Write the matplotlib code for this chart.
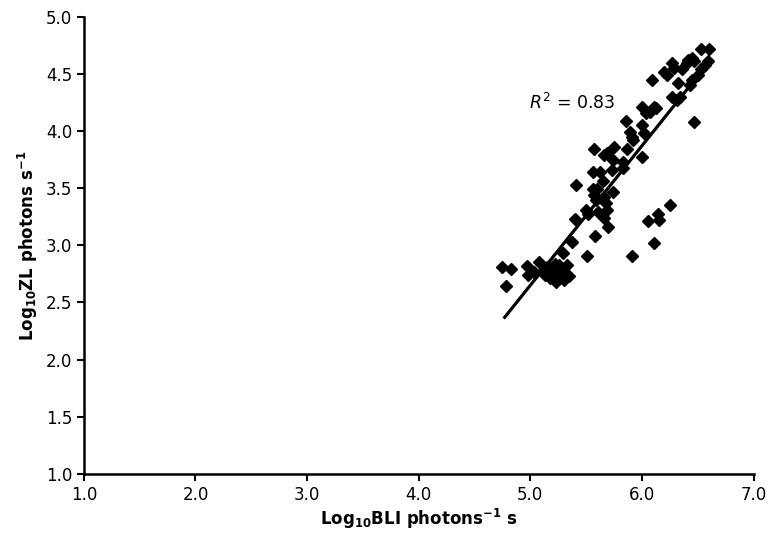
import numpy as np
import matplotlib
matplotlib.use("Agg")
import matplotlib.pyplot as plt

plt.rcParams["font.family"] = "DejaVu Sans"
plt.rcParams["mathtext.fontset"] = "dejavusans"
plt.rcParams["mathtext.default"] = "regular"

# log10 BLI vs log10 ZL
bli = [4.75, 4.83, 4.78, 4.97, 4.98,
       5.08, 5.15, 5.17, 5.20, 5.23, 5.26, 5.29, 5.33, 5.35, 5.23,
       5.12, 5.18, 5.27, 5.30, 5.22, 5.13, 5.03, 5.25,
       5.29, 5.37, 5.51, 5.58,
       5.40, 5.50, 5.52, 5.61, 5.66, 5.70,
       5.41, 5.56, 5.57, 5.59, 5.66, 5.68, 5.69,
       5.60, 5.74, 5.65,
       5.56, 5.62, 5.73, 5.83,
       5.74, 5.83, 6.00,
       5.57, 5.69, 5.66, 5.75, 5.87,
       5.91, 6.05, 6.14, 6.15, 6.25, 6.11,
       5.86, 6.00, 5.89, 5.91, 6.02, 5.92,
       6.07, 6.13, 6.00, 6.11, 6.04,
       6.27, 6.31, 6.34, 6.32, 6.43, 6.45,
       6.09, 6.20, 6.22, 6.27, 6.29, 6.36,
       6.41, 6.45, 6.40, 6.47, 6.50, 6.53, 6.56, 6.59,
       6.53, 6.60, 6.47]
zl = [2.81, 2.79, 2.64, 2.82, 2.74,
      2.85, 2.81, 2.76, 2.80, 2.72, 2.83, 2.77, 2.83, 2.73, 2.68,
      2.78, 2.71, 2.79, 2.70, 2.84, 2.74, 2.77, 2.75,
      2.93, 3.03, 2.91, 3.08,
      3.23, 3.31, 3.27, 3.29, 3.24, 3.16,
      3.53, 3.49, 3.44, 3.40, 3.42, 3.37, 3.31,
      3.49, 3.47, 3.56,
      3.64, 3.64, 3.66, 3.68,
      3.75, 3.73, 3.77,
      3.84, 3.81, 3.79, 3.86, 3.84,
      2.91, 3.21, 3.27, 3.22, 3.35, 3.02,
      4.09, 4.05, 3.99, 3.95, 3.98, 3.92,
      4.17, 4.20, 4.21, 4.21, 4.16,
      4.30, 4.27, 4.30, 4.42, 4.40, 4.45,
      4.45, 4.52, 4.49, 4.60, 4.55, 4.54,
      4.62, 4.64, 4.60, 4.61, 4.49, 4.54, 4.58, 4.61,
      4.72, 4.72, 4.08]

# regression line ends
fit_x = [4.77, 6.58]
fit_y = [2.37, 4.58]

fig = plt.figure(figsize=(7.69, 5.44), dpi=100)
ax = fig.add_axes([0.109, 0.129, 0.871, 0.840])

ax.plot(bli, zl, "D", color="black", markersize=6, linestyle="none")
ax.plot(fit_x, fit_y, color="black", linewidth=2.3)

ax.text(4.99, 4.25, r"$\it{R}^{2}$ = 0.83", fontsize=12.5, va="center")

ax.set_xlim(1.0, 7.0)
ax.set_ylim(1.0, 5.0)
ax.set_xticks(np.arange(1.0, 7.01, 1.0))
ax.set_yticks(np.arange(1.0, 5.01, 0.5))
ax.xaxis.set_major_formatter(matplotlib.ticker.FormatStrFormatter("%.1f"))
ax.yaxis.set_major_formatter(matplotlib.ticker.FormatStrFormatter("%.1f"))
ax.tick_params(direction="out", length=5, width=1.5, labelsize=12, colors="black")

for s in ["top", "right"]:
    ax.spines[s].set_visible(False)
for s in ["left", "bottom"]:
    ax.spines[s].set_linewidth(1.8)

ax.set_xlabel(r"Log$_{\mathbf{10}}$BLI photons$^{\mathbf{-1}}$ s", fontsize=12,
              fontweight="bold", labelpad=2)
ax.set_ylabel(r"Log$_{\mathbf{10}}$ZL photons s$^{\mathbf{-1}}$", fontsize=12,
              fontweight="bold", labelpad=4)

fig.savefig("out.png", dpi=100)
